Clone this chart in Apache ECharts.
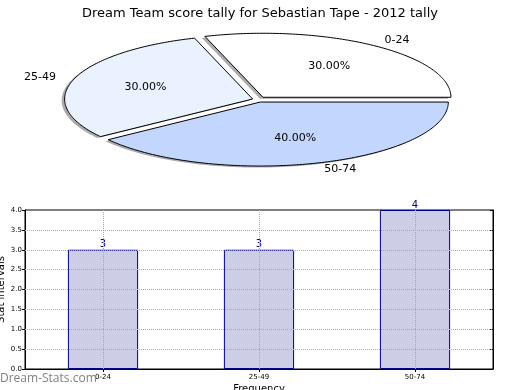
<!DOCTYPE html>
<html><head><meta charset="utf-8">
<script src="https://cdn.jsdelivr.net/npm/echarts@6/dist/echarts.min.js"></script>
<style>html,body{margin:0;padding:0;background:#fff}#c{width:520px;height:390px}</style>
</head><body><div id="c"></div>
<script>
// ---- data ----
const titleText = 'Dream Team score tally for Sebastian Tape - 2012 tally';
const categories = ['0-24', '25-49', '50-74'];
const pieValues = [3, 3, 4];
const barValues = [3, 3, 4];
const gridYValues = [0.5, 1, 1.5, 2, 2.5, 3, 3.5];
const yAxisName = 'Stat intervals';
const xAxisName = 'Frequency';
const watermark = 'Dream-Stats.com';

// ---- pie styling (elliptical, matplotlib-like) ----
const PIE = { cx: 258, cy: 99.6, rx: 188, ry: 64 };
const pieColors = ['#ffffff', '#eaf1ff', '#c3d7fe'];
const explode = [0.045, 0.03, 0.04];
const FONT = '"DejaVu Sans", "Liberation Sans", sans-serif';

const total = pieValues.reduce((a, b) => a + b, 0);

function renderPie(params, api) {
  const i = params.dataIndex;
  const v = api.value(1);
  let before = 0;
  for (let k = 0; k < i; k++) before += pieValues[k];
  const a0 = before / total * 2 * Math.PI;
  const a1 = (before + v) / total * 2 * Math.PI;
  const mid = (a0 + a1) / 2;
  const ox = PIE.cx + explode[i] * PIE.rx * Math.cos(mid);
  const oy = PIE.cy - explode[i] * PIE.ry * Math.sin(mid);
  const n = Math.max(8, Math.ceil((a1 - a0) / (Math.PI / 180)));
  const pts = [[ox, oy]];
  for (let s = 0; s <= n; s++) {
    const a = a0 + (a1 - a0) * s / n;
    pts.push([ox + PIE.rx * Math.cos(a), oy - PIE.ry * Math.sin(a)]);
  }
  const shadowPts = pts.map(p => [p[0] - 3, p[1] + 1.5]);
  const lx = ox + 1.1 * PIE.rx * Math.cos(mid);
  const ly = oy - 1.1 * PIE.ry * Math.sin(mid);
  const px = ox + 0.6 * PIE.rx * Math.cos(mid);
  const py = oy - 0.6 * PIE.ry * Math.sin(mid);
  const pct = (v / total * 100).toFixed(2) + '%';
  return {
    type: 'group',
    children: [
      { type: 'polygon', z2: 1, shape: { points: shadowPts }, style: { fill: 'rgba(70,70,80,0.45)', stroke: null } },
      { type: 'polygon', z2: 5, shape: { points: pts }, style: { fill: pieColors[i], stroke: '#000', lineWidth: 1 } },
      { type: 'text', z2: 10, x: px, y: py, style: { text: pct, fill: '#000', fontSize: 11, fontFamily: FONT, align: 'center', verticalAlign: 'middle' } },
      { type: 'text', z2: 10, x: lx, y: ly, style: { text: categories[i], fill: '#000', fontSize: 11, fontFamily: FONT, align: Math.cos(mid) >= 0 ? 'left' : 'right', verticalAlign: 'middle' } }
    ]
  };
}

const chart = echarts.init(document.getElementById('c'), null, { renderer: 'canvas' });
const dotted = { type: 'dotted', color: '#a8a8a8', width: 1 };
chart.setOption({
  animation: false,
  backgroundColor: '#fff',
  textStyle: { fontFamily: FONT },
  title: { text: titleText, left: 'center', top: 2, textStyle: { fontSize: 13, fontWeight: 'normal', color: '#000', fontFamily: FONT } },
  grid: { left: 25, right: 27, top: 210, bottom: 21, containLabel: false, outerBoundsMode: 'none', show: true, borderColor: '#000', borderWidth: 1, backgroundColor: 'transparent' },
  graphic: [{ type: 'text', left: 0, top: 373, z: 100, style: { text: watermark, fill: '#808080', fontSize: 12, fontWeight: 'normal', fontFamily: '"Open Sans", "DejaVu Sans", sans-serif' } }],
  xAxis: [{
    type: 'category', data: categories, boundaryGap: true,
    name: xAxisName, nameLocation: 'middle', nameGap: 15, nameMoveOverlap: false, nameTextStyle: { fontSize: 10, color: '#000' },
    axisLine: { lineStyle: { color: '#000' } },
    axisTick: { show: true, alignWithLabel: true, inside: false, length: 3, lineStyle: { color: '#000' } },
    axisLabel: { fontSize: 7, color: '#000', margin: 5 },
    splitLine: { show: false }
  }],
  yAxis: [{
    type: 'value', min: 0, max: 4, interval: 0.5,
    name: yAxisName, nameLocation: 'middle', nameGap: 19, nameMoveOverlap: false, nameTextStyle: { fontSize: 10, color: '#000' },
    axisLine: { show: true, lineStyle: { color: '#000' } },
    axisTick: { show: true, inside: false, length: 3, lineStyle: { color: '#000' } },
    axisLabel: { fontSize: 7, color: '#000', margin: 3, formatter: v => v.toFixed(1) },
    splitLine: { show: false }
  }, {
    type: 'value', min: 0, max: 4, interval: 0.5, position: 'right',
    axisLine: { show: true, lineStyle: { color: '#000' } },
    axisTick: { show: true, inside: true, length: 3, lineStyle: { color: '#000' } },
    axisLabel: { show: false }, splitLine: { show: false }
  }],
  series: [
    {
      type: 'custom', coordinateSystem: 'none', silent: true,
      data: pieValues.map((v, i) => [i, v]),
      renderItem: renderPie
    },
    {
      type: 'bar', data: barValues, barWidth: '45%',
      itemStyle: { color: '#cdcde6', borderColor: '#00008b', borderWidth: 1 },
      label: { show: true, position: 'top', distance: 0, color: '#00008b', fontSize: 10, fontFamily: FONT },
      markLine: {
        silent: true, symbol: 'none', label: { show: false }, lineStyle: dotted,
        data: categories.map(c => ({ xAxis: c })).concat(gridYValues.map(v => ({ yAxis: v })))
      }
    }
  ]
});
</script></body></html>
